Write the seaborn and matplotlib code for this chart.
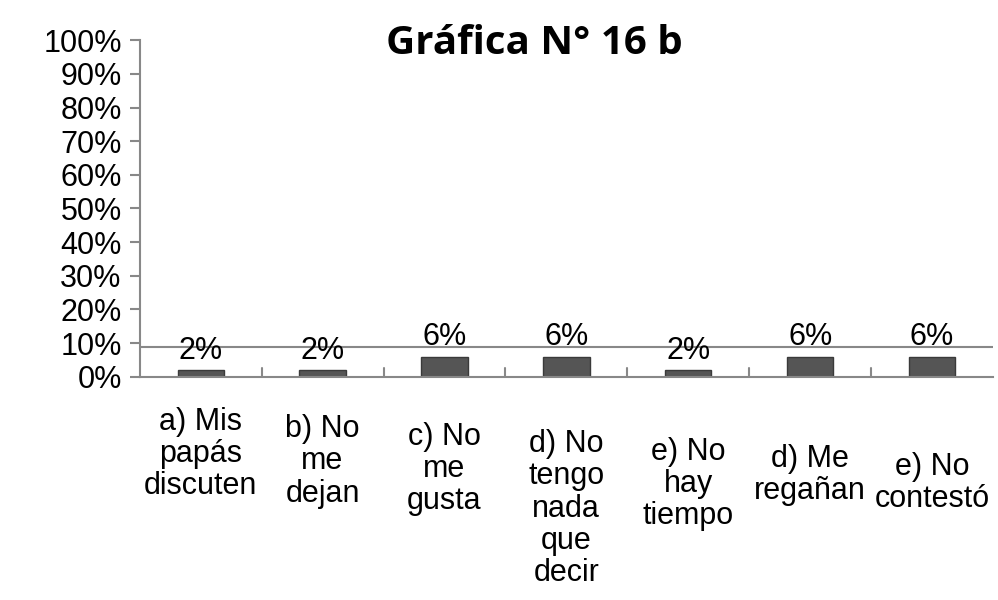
import pandas as pd
import seaborn as sns
import matplotlib.pyplot as plt
from matplotlib.ticker import PercentFormatter
from matplotlib.transforms import ScaledTranslation

categorias = ['a) Mis\npapás\ndiscuten', 'b) No\nme\ndejan', 'c) No\nme\ngusta',
              'd) No\ntengo\nnada\nque\ndecir', 'e) No\nhay\ntiempo',
              'd) Me\nregañan', 'e) No\ncontestó']
porcentajes = [2, 2, 6, 6, 2, 6, 6]

df = pd.DataFrame({'categoria': categorias, 'valor': porcentajes})

sns.set_style('white')
plt.rcParams['font.family'] = ['Liberation Sans', 'DejaVu Sans']
plt.rcParams['text.color'] = 'black'
plt.rcParams['xtick.color'] = 'black'
plt.rcParams['ytick.color'] = 'black'

fig = plt.figure(figsize=(9.98, 6), dpi=100)
ax = fig.add_axes([0.14, 0.372, 0.855, 0.561])

sns.barplot(data=df, x='categoria', y='valor', color='#555555', width=0.38,
            edgecolor='#3a3a3a', linewidth=1, ax=ax)

ax.set_ylim(0, 100)
ax.set_yticks(range(0, 101, 10))
ax.yaxis.set_major_formatter(PercentFormatter(decimals=0))
ax.set_xlabel('')
ax.set_ylabel('')

for s in ['top', 'right']:
    ax.spines[s].set_visible(False)
for s in ['left', 'bottom']:
    ax.spines[s].set_color('#888888')
    ax.spines[s].set_linewidth(1.5)

ax.tick_params(axis='y', which='major', left=True, length=7, width=1.5,
               color='#888888', labelcolor='black', labelsize=22, pad=6)
ax.tick_params(axis='x', bottom=False, labelsize=22, labelcolor='black', pad=18)
# labels drop a little further to the right, as in the tilted original
for i, lab in enumerate(ax.get_xticklabels()):
    lab.set_verticalalignment('top')
    lab.set_linespacing(1.1)
    lab.set_transform(lab.get_transform() + ScaledTranslation(0, -i * 0.075, fig.dpi_scale_trans))

# floor line at the back and category dividers
ax.axhline(9, color='#888888', linewidth=1.5)
for i in range(len(categorias) - 1):
    ax.axvline(i + 0.5, ymin=0, ymax=0.025, color='#888888', linewidth=1.5)

ax.bar_label(ax.containers[0], labels=[f'{v}%' for v in porcentajes],
             fontsize=22, padding=3)

fig.suptitle('Gráfica N° 16 b', x=0.535, y=0.96, fontsize=29, fontweight='bold',
             family=['Open Sans', 'DejaVu Sans'])

fig.savefig('out.png', dpi=100)
